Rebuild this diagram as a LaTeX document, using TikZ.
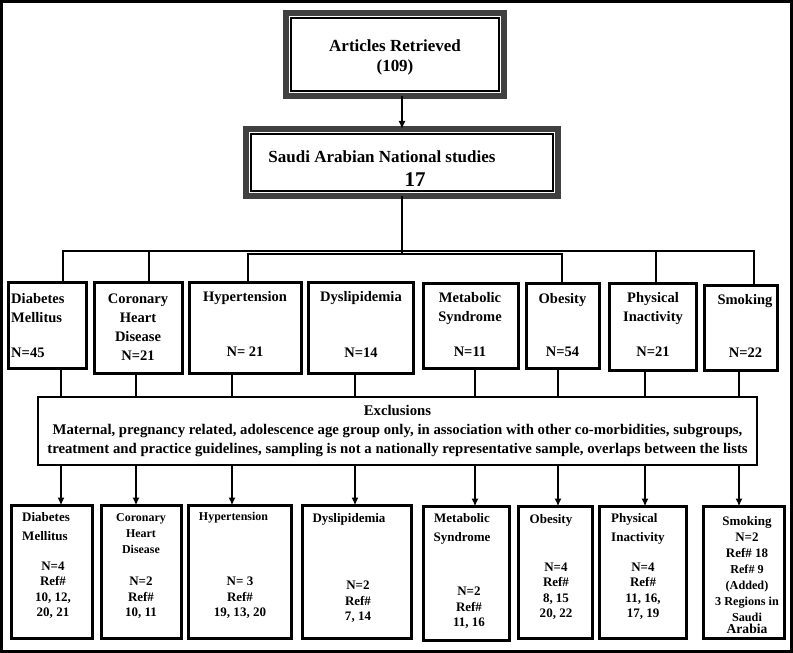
\documentclass[tikz,border=0pt]{standalone}
\usepackage{fontspec}
\setmainfont{Liberation Serif}
\usetikzlibrary{arrows.meta}

\newcommand{\pxu}{0.3mm}
\tikzset{
  link/.style={line width=2*\pxu},
  arr/.style={line width=2*\pxu,-{Latex[length=2.4mm,width=2.1mm]}},
  framebox/.style 2 args={draw=black!75,fill=white,line width=6*\pxu,outer sep=0pt,inner sep=0pt,minimum width=#1*\pxu,minimum height=#2*\pxu},
  catbox/.style 2 args={draw,line width=3*\pxu,outer sep=0pt,inner sep=0pt,minimum width=#1*\pxu,minimum height=#2*\pxu},
  toptxt/.style={inner sep=0pt,align=center,font=\fontsize{14.5}{17}\selectfont\bfseries},
  midtxt/.style={inner sep=0pt,align=center,font=\fontsize{12.4}{16.2}\selectfont\bfseries},
  bottxt/.style={inner sep=0pt,align=center,font=\fontsize{11.1}{16.2}\selectfont\bfseries},
  numtxt/.style={inner sep=0pt,align=center,font=\fontsize{11.1}{13.2}\selectfont\bfseries},
  smalltxt/.style={inner sep=0pt,align=center,font=\fontsize{10.2}{13.7}\selectfont\bfseries}
}

\begin{document}
\begin{tikzpicture}[x=0.3mm,y=-0.3mm]
	\useasboundingbox (0,0) rectangle (793,653);
	\draw[line width=3*\pxu] (1.5,1.5) rectangle (791.5,651.5);

	% top boxes
	\node[framebox={218}{83}] (arts) at (395,54.5) {};
	\draw[line width=1.5*\pxu] ([xshift=5*\pxu,yshift=-5*\pxu]arts.north west) rectangle ([xshift=-5*\pxu,yshift=5*\pxu]arts.south east);
	\node[toptxt] (artsT) at (395,57) {Articles Retrieved\\(109)};

	\node[framebox={312}{67}] (sas) at (402,162.5) {};
	\draw[line width=1.5*\pxu] ([xshift=5*\pxu,yshift=-5*\pxu]sas.north west) rectangle ([xshift=-5*\pxu,yshift=5*\pxu]sas.south east);
	\node[toptxt] (sasT) at (382,157) {Saudi Arabian National studies};
	\node[toptxt,font=\fontsize{17.9}{20}\selectfont\bfseries] (sasN) at (415,180) {17};

	\draw[arr] (sas.north |- arts.south) -- (sas.north);

	% categories
	\node[catbox={78}{86}] (dmA) at (47,326) {};
	\node[catbox={88}{91}] (chdA) at (138,328.5) {};
	\node[catbox={112}{91}] (htA) at (245,328.5) {};
	\node[catbox={105}{91}] (dlA) at (360.5,328.5) {};
	\node[catbox={95}{85}] (msA) at (470.5,326.5) {};
	\node[catbox={73}{85}] (obA) at (562.5,326.5) {};
	\node[catbox={87}{87}] (piA) at (652.5,327.5) {};
	\node[catbox={73}{85}] (smA) at (740.5,328.5) {};

	\node[midtxt,align=left,anchor=west] (dmT) at (11,308) {Diabetes\\Mellitus};
	\node[midtxt,anchor=west] (dmN) at (11,353) {N=45};
	\node[midtxt] (chdT) at (138,327) {Coronary\\Heart\\Disease\\N=21};
	\node[midtxt] (htT) at (245,298) {Hypertension};
	\node[midtxt] (htN) at (245,352) {N= 21};
	\node[midtxt] (dlT) at (361,298) {Dyslipidemia};
	\node[midtxt] (dlN) at (361,353) {N=14};
	\node[midtxt] (msT) at (470,309) {Metabolic\\Syndrome};
	\node[midtxt] (msN) at (470,352) {N=11};
	\node[midtxt] (obT) at (562.5,300) {Obesity};
	\node[midtxt] (obN) at (562.5,352) {N=54};
	\node[midtxt] (piT) at (653,309) {Physical\\Inactivity};
	\node[midtxt] (piN) at (653,352) {N=21};
	\node[midtxt] (smT) at (745,301) {Smoking};
	\node[midtxt] (smN) at (745.5,353) {N=22};

	% bus lines
	\coordinate (b1) at (63,251);
	\coordinate (b2) at (149,251);
	\coordinate (b3) at (656,251);
	\coordinate (b4) at (754,251);
	\coordinate (c1) at (248,254);
	\coordinate (c2) at (562,254);
	\draw[link] (b1 |- dmA.north) -- (b1) -- (b4) -- (b4 |- smA.north);
	\draw[link] (b2) -- (b2 |- chdA.north);
	\draw[link] (b3) -- (b3 |- piA.north);
	\draw[link] (c1 |- htA.north) -- (c1) -- (c2) -- (c2 |- obA.north);
	\draw[link] (sas.south) -- (sas.south |- c2);

	% exclusions
	\node[draw,line width=2*\pxu,outer sep=0pt,inner sep=0pt,minimum width=719*\pxu,minimum height=68*\pxu,align=center,font=\fontsize{12.6}{16.4}\selectfont\bfseries] (excl) at (397.5,431) {Exclusions\\Maternal, pregnancy related, adolescence age group only, in association with other co-morbidities, subgroups,\\treatment and practice guidelines, sampling is not a nationally representative sample, overlaps between the lists};

	% results
	\node[catbox={81}{133}] (dmB) at (52,572) {};
	\node[catbox={80}{133}] (chdB) at (141.5,572) {};
	\node[catbox={103}{133}] (htB) at (240,572) {};
	\node[catbox={109}{133}] (dlB) at (357,572) {};
	\node[catbox={86}{134}] (msB) at (466.5,573.5) {};
	\node[catbox={74}{132}] (obB) at (555.5,572.5) {};
	\node[catbox={87}{132}] (piB) at (643,572.5) {};
	\node[catbox={81}{132}] (smB) at (744,572.5) {};

	\node[bottxt,align=left,anchor=west] (dmBT) at (22,527) {Diabetes\\Mellitus};
	\node[numtxt] (dmBN) at (53,590) {N=4\\Ref\#\\10, 12,\\20, 21};
	\node[smalltxt] (chdBT) at (141,534) {Coronary\\Heart\\Disease};
	\node[numtxt] (chdBN) at (141,598) {N=2\\Ref\#\\10, 11};
	\node[smalltxt] (htBT) at (233.5,518) {Hypertension};
	\node[numtxt] (htBN) at (240,598) {N= 3\\Ref\#\\19, 13, 20};
	\node[bottxt] (dlBT) at (349,519) {Dyslipidemia};
	\node[numtxt] (dlBN) at (358,602) {N=2\\Ref\#\\7, 14};
	\node[bottxt] (msBT) at (462,529) {Metabolic\\Syndrome};
	\node[numtxt] (msBN) at (469,608) {N=2\\Ref\#\\11, 16};
	\node[bottxt] (obBT) at (551,520) {Obesity};
	\node[numtxt] (obBN) at (556,591) {N=4\\Ref\#\\8, 15\\20, 22};
	\node[bottxt,align=left,anchor=west] (piBT) at (611,529) {Physical\\Inactivity};
	\node[numtxt] (piBN) at (643,591) {N=4\\Ref\#\\11, 16,\\17, 19};
	\node[bottxt,font=\fontsize{11.1}{13.7}\selectfont\bfseries] (smBT) at (747,537) {Smoking\\N=2\\Ref\# 18};
	\node[inner sep=0pt,align=center,font=\fontsize{10.4}{13.7}\selectfont\bfseries] (smBR) at (747,593) {Ref\# 9\\(Added)\\3 Regions in\\Saudi};
	\node[inner sep=0pt,font=\fontsize{11.6}{13}\selectfont\bfseries] (smBA) at (747,629) {Arabia};

	% connectors to and from exclusions
	\coordinate (k1) at (61,0);
	\coordinate (k2) at (136,0);
	\coordinate (k3) at (232,0);
	\coordinate (k4) at (355,0);
	\coordinate (k5) at (475,0);
	\coordinate (k6) at (558,0);
	\coordinate (k7) at (645,0);
	\coordinate (k8) at (739,0);
	\draw[link] (k1 |- dmA.south) -- (k1 |- excl.north);
	\draw[link] (k2 |- chdA.south) -- (k2 |- excl.north);
	\draw[link] (k3 |- htA.south) -- (k3 |- excl.north);
	\draw[link] (k4 |- dlA.south) -- (k4 |- excl.north);
	\draw[link] (k5 |- msA.south) -- (k5 |- excl.north);
	\draw[link] (k6 |- obA.south) -- (k6 |- excl.north);
	\draw[link] (k7 |- piA.south) -- (k7 |- excl.north);
	\draw[link] (k8 |- smA.south) -- (k8 |- excl.north);
	\draw[arr] (k1 |- excl.south) -- (k1 |- dmB.north);
	\draw[arr] (k2 |- excl.south) -- (k2 |- chdB.north);
	\draw[arr] (k3 |- excl.south) -- (k3 |- htB.north);
	\draw[arr] (k4 |- excl.south) -- (k4 |- dlB.north);
	\draw[arr] (k5 |- excl.south) -- (k5 |- msB.north);
	\draw[arr] (k6 |- excl.south) -- (k6 |- obB.north);
	\draw[arr] (k7 |- excl.south) -- (k7 |- piB.north);
	\draw[arr] (k8 |- excl.south) -- (k8 |- smB.north);
\end{tikzpicture}
\end{document}
